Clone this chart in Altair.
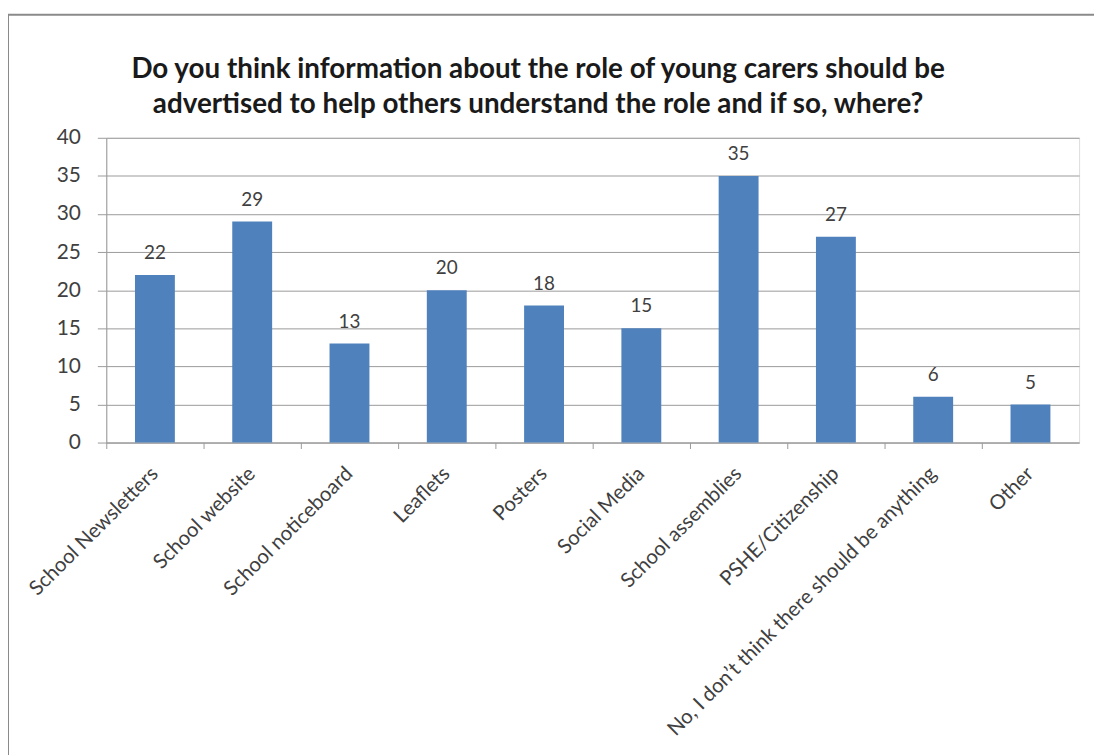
import altair as alt
import pandas as pd

categories = [
    "School Newsletters", "School website", "School noticeboard", "Leaflets",
    "Posters", "Social Media", "School assemblies", "PSHE/Citizenship",
    "No, I don’t think there should be anything", "Other",
]
values = [22, 29, 13, 20, 18, 15, 35, 27, 6, 5]
y_ticks = [0, 5, 10, 15, 20, 25, 30, 35, 40]
title_line1 = "Do you think information about the role of young carers should be"
title_line2 = "advertised to help others understand the role and if so, where?"

df = pd.DataFrame({"category": categories, "value": values})

FONT = "Lato"
BLUE = "#4F81BD"
TEXT = "#404040"
AXIS = "#9a9a9a"

x_enc = alt.X(
    "category:N", sort=categories, title=None,
    scale=alt.Scale(paddingInner=0, paddingOuter=0),
    axis=alt.Axis(
        labelAngle=-45, labelAlign="right", labelBaseline="middle",
        labelFont=FONT, labelFontSize=20.5, labelColor=TEXT, labelPadding=22,
        labelLimit=600, bandPosition=0, labelOverlap=False,
        tickSize=6, tickColor=AXIS, domainColor=AXIS, grid=False,
    ),
)
y_enc = alt.Y(
    "value:Q", title=None,
    scale=alt.Scale(domain=[0, 40], nice=False),
    axis=alt.Axis(
        values=y_ticks, labelFont=FONT, labelFontSize=21, labelColor=TEXT,
        labelPadding=17, tickSize=9, tickColor=AXIS, domainColor=AXIS,
        gridColor=AXIS, gridWidth=1, labelOverlap=False,
    ),
)

bars = alt.Chart(df).mark_bar(color=BLUE, width=alt.RelativeBandSize(0.41)).encode(
    x=x_enc, y=y_enc
)
labels = alt.Chart(df).mark_text(
    dy=-16, baseline="alphabetic", font=FONT, fontSize=19, color=TEXT
).encode(x=x_enc, y=y_enc, text="value:Q")

one = pd.DataFrame({"t": [0]})
t1 = alt.Chart(one).mark_text(
    font=FONT, fontSize=28, fontWeight="bold", color="#1a1a1a",
    baseline="alphabetic", align="center",
).encode(x=alt.value(435), y=alt.value(-60), text=alt.value(title_line1))
t2 = alt.Chart(one).mark_text(
    font=FONT, fontSize=28, fontWeight="bold", color="#1a1a1a",
    baseline="alphabetic", align="center",
).encode(x=alt.value(435), y=alt.value(-25), text=alt.value(title_line2))

border = alt.Chart(one).mark_rect(
    fill=None, stroke="#8a8a8a", strokeWidth=2
).encode(
    x=alt.value(-99), x2=alt.value(1010),
    y=alt.value(-124), y2=alt.value(700),
)

chart = alt.layer(bars, labels, t1, t2, border).properties(
    width=980, height=307,
    autosize=alt.AutoSizeParams(type="none"),
    padding={"left": 99, "top": 128, "right": 15, "bottom": 312},
).configure_view(stroke=None).configure(background="white")

chart.save("out.html", embed_options={"renderer": "svg", "actions": False})
